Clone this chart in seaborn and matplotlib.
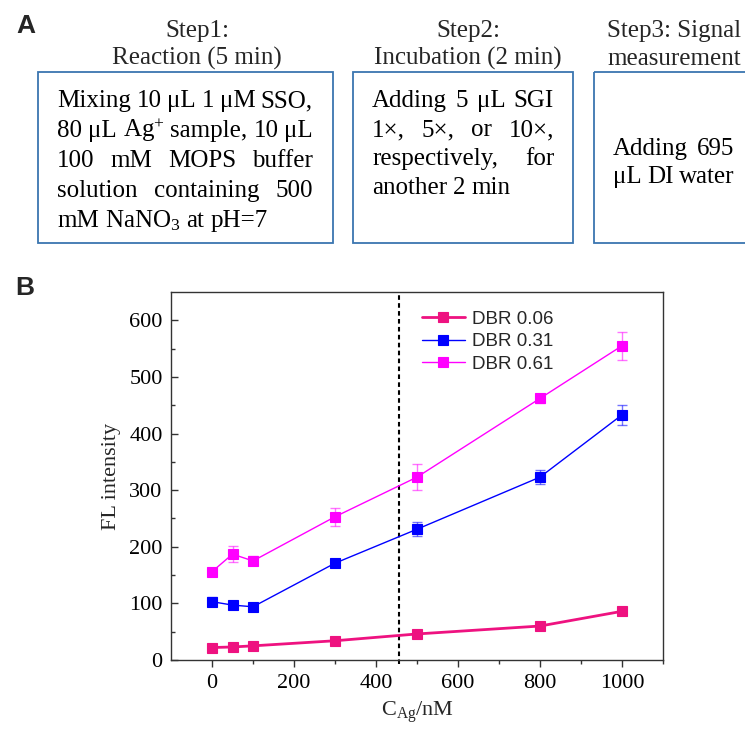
import numpy as np
import pandas as pd
import seaborn as sns
import matplotlib
matplotlib.use("Agg")
import matplotlib.pyplot as plt
from matplotlib.patches import Rectangle

# ---- data ----
conc_nM = [0, 50, 100, 300, 500, 800, 1000]
dbr_labels = ["DBR 0.06", "DBR 0.31", "DBR 0.61"]
fl_dbr006 = [22, 23, 25, 34, 46, 60, 86]
err_dbr006 = [3, 3, 3, 3, 3, 3, 3]
fl_dbr031 = [103, 97, 94, 171, 231, 323, 433]
err_dbr031 = [8, 4, 4, 7, 12, 13, 18]
fl_dbr061 = [156, 187, 175, 253, 323, 462, 555]
err_dbr061 = [7, 14, 8, 16, 23, 8, 25]
cutoff_nM = 455
y_ticks = [0, 100, 200, 300, 400, 500, 600]
x_ticks = [0, 200, 400, 600, 800, 1000]

# ---- style ----
sns.set_theme(style="ticks")
plt.rcParams["font.family"] = ["Liberation Serif", "DejaVu Serif"]
plt.rcParams["mathtext.fontset"] = "custom"
plt.rcParams["mathtext.rm"] = "Liberation Serif"
plt.rcParams["mathtext.it"] = "Liberation Serif:italic"
plt.rcParams["mathtext.bf"] = "Liberation Serif:bold"

W, H = 745, 733
fig = plt.figure(figsize=(W / 100, H / 100), dpi=100)
fig.patch.set_facecolor("white")

# ---- panel A: workflow boxes drawn on a pixel-unit overlay ----
ov = fig.add_axes([0, 0, 1, 1], zorder=0)
ov.set_xlim(0, W)
ov.set_ylim(H, 0)
ov.axis("off")
ov.patch.set_alpha(0)

box_color = "#3a75b0"
body_kw = dict(fontsize=18, color="black", va="baseline", ha="left",
               family=["Liberation Serif", "DejaVu Serif"])
renderer = fig.canvas.get_renderer()


def place_line(words, x0, x1, y, justify=True):
    txts = [ov.text(0, y, w, **body_kw) for w in words]
    widths = [t.get_window_extent(renderer).width for t in txts]
    if justify and len(words) > 1:
        gap = (x1 - x0 - sum(widths)) / (len(words) - 1)
    else:
        gap = 6.0
    x = x0
    for t, w in zip(txts, widths):
        t.set_x(x)
        x += w + gap


def place_block(lines, x0, x1, y0, dy, justify_last=False):
    for i, words in enumerate(lines):
        last = i == len(lines) - 1
        place_line(words, x0, x1, y0 + i * dy, justify=(not last) or justify_last)


for (bx0, bx1) in [(38, 333), (353, 573), (594, 760)]:
    ov.add_patch(Rectangle((bx0, 72), bx1 - bx0, 171, fill=False,
                           edgecolor=box_color, lw=1.3, clip_on=False))

ov.text(197, 37, "Step1:", ha="center", va="baseline", fontsize=18)
ov.text(197, 65, "Reaction (5 min)", ha="center", va="baseline", fontsize=18)
ov.text(468, 37, "Step2:", ha="center", va="baseline", fontsize=18)
ov.text(468, 65, "Incubation (2 min)", ha="center", va="baseline", fontsize=18)
ov.text(607, 37, "Step3: Signal", ha="left", va="baseline", fontsize=18)
ov.text(607, 65, "measurement", ha="left", va="baseline", fontsize=18)

place_block([
    ["Mixing", "10", "\u03bcL", "1", "\u03bcM", "SSO,"],
    ["80", "\u03bcL", r"Ag$^{\mathrm{+}}$", "sample,", "10", "\u03bcL"],
    ["100", "mM", "MOPS", "buffer"],
    ["solution", "containing", "500"],
    ["mM", r"NaNO$_{\mathrm{3}}$", "at", "pH=7"],
], 57, 313, 107, 30)

place_block([
    ["Adding", "5", "\u03bcL", "SGI"],
    ["1\u00d7,", "5\u00d7,", "or", "10\u00d7,"],
    ["respectively,", "for"],
    ["another", "2", "min"],
], 372, 554, 107, 29)

place_block([
    ["Adding", "695"],
    ["\u03bcL", "DI", "water"],
], 613, 734, 155, 28, justify_last=True)

ov.text(16, 33, "A", fontsize=19, fontweight="bold", va="baseline",
        family=["Liberation Sans", "DejaVu Sans"])
ov.text(15, 295, "B", fontsize=19, fontweight="bold", va="baseline",
        family=["Liberation Sans", "DejaVu Sans"])

# ---- panel B: fluorescence vs Ag+ concentration ----
ax = fig.add_axes([171 / W, (H - 660) / H, (663 - 171) / W, (660 - 292) / H], zorder=2)
ax.patch.set_alpha(0)

series = [
    (dbr_labels[0], fl_dbr006, err_dbr006, "#ee1280", 2.0),
    (dbr_labels[1], fl_dbr031, err_dbr031, "#0000ff", 1.0),
    (dbr_labels[2], fl_dbr061, err_dbr061, "#ff00ff", 1.0),
]
for label, vals, errs, color, lw in series:
    df = pd.DataFrame({"conc": conc_nM, "fl": vals})
    ax.errorbar(conc_nM, vals, yerr=errs, fmt="none", ecolor=color, alpha=0.55,
                elinewidth=1.0, capsize=3.5, capthick=1.0, zorder=2)
    sns.lineplot(data=df, x="conc", y="fl", ax=ax, color=color, linewidth=lw,
                 marker="s", markersize=7, markeredgecolor=color,
                 markeredgewidth=0.8, label=label, zorder=3)

ax.axvline(cutoff_nM, ymin=-0.012, ymax=1, color="black", lw=1.5,
           linestyle=(0, (2.2, 1.6)), clip_on=False, zorder=1)

ax.set_xlim(-100, 1100)
ax.set_ylim(0, 650)
ax.set_xticks(x_ticks)
ax.set_xticks([100, 300, 500, 700, 900, 1100], minor=True)
ax.set_yticks(y_ticks)
ax.set_yticks([50, 150, 250, 350, 450, 550], minor=True)
ax.tick_params(axis="x", which="major", direction="out", length=5, width=1,
               labelsize=16, pad=5, colors="#333333", labelcolor="black")
ax.tick_params(axis="x", which="minor", direction="out", length=3, width=1,
               colors="#333333")
ax.tick_params(axis="y", which="major", direction="in", length=5, width=1,
               labelsize=16, pad=6, colors="#333333", labelcolor="black")
ax.tick_params(axis="y", which="minor", direction="in", length=3, width=1,
               colors="#333333")
for sp in ax.spines.values():
    sp.set_color("#333333")
    sp.set_linewidth(1.0)

ax.set_xlabel(r"C$_{\mathrm{Ag}}$/nM", fontsize=16, labelpad=4.5)
ax.set_ylabel("FL intensity", fontsize=16, labelpad=6)

leg = ax.legend(loc="upper left", bbox_to_anchor=(0.510, 0.950), frameon=False,
                borderpad=0, borderaxespad=0, handlelength=2.3, handletextpad=0.35,
                labelspacing=0.3, prop={"family": ["Liberation Sans", "DejaVu Sans"],
                                        "size": 13.5})

fig.savefig("out.png", dpi=100, facecolor="white")
